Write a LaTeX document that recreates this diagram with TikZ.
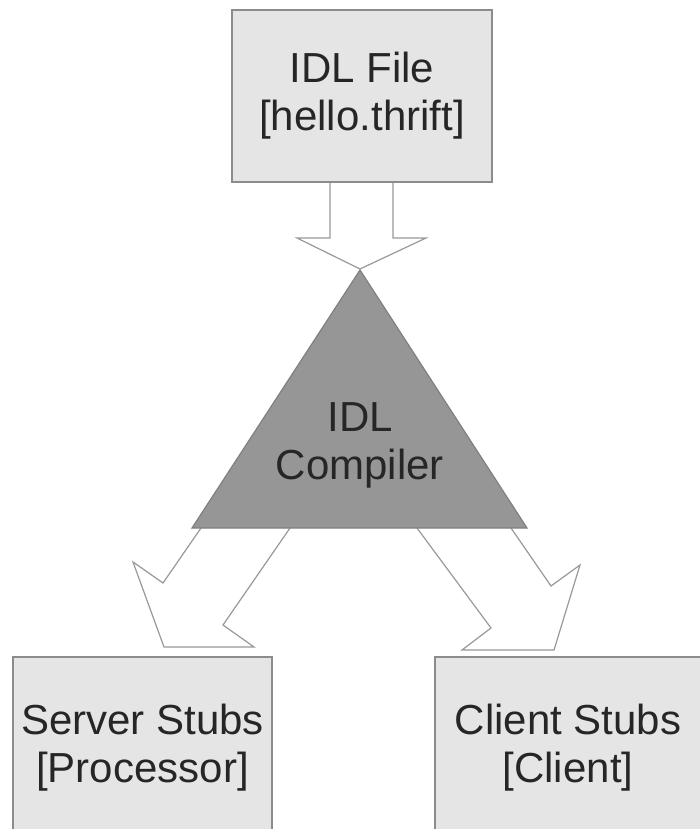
\documentclass[tikz,border=0pt]{standalone}
\usepackage{fontspec}
\setmainfont{Liberation Sans}
\begin{document}
\begin{tikzpicture}[x=1pt,y=-1pt,
  block/.style={draw=black!45, line width=1.2pt, fill=black!10, inner sep=0pt,
    text=black!85, font=\fontsize{42}{48}\selectfont, align=center},
  blockarrow/.style={draw=black!40, line width=1.2pt, fill=white, line join=miter},
  label/.style={text=black!85, font=\fontsize{42}{48}\selectfont, align=center, inner sep=0pt}]
\useasboundingbox (0,0) rectangle (700,829);
\begin{scope}
\clip (0,0) rectangle (700,829);

% block arrows
\draw[blockarrow] (330,182) -- (330,238) -- (297,238) -- (360,269) -- (426,238)
  -- (393,238) -- (393,182);
\draw[blockarrow] (201,528) -- (163,583) -- (133,562) -- (164,647) -- (254,647)
  -- (223,625) -- (290,528);
\draw[blockarrow] (417,528) -- (491,628) -- (462,650) -- (554,650) -- (580,565)
  -- (551,586) -- (511,528);

% boxes
\node[block, minimum width=260pt, minimum height=172pt] (idl) at (362,96)
  {IDL File\\{[hello.thrift]}};
\node[block, minimum width=259pt, minimum height=180pt] (server) at (142.5,747) {};
\node[block, minimum width=266pt, minimum height=180pt] (client) at (568,747) {};

% compiler triangle
\draw[draw=black!50, line width=1.2pt, fill=black!41, line join=miter]
  (360,270) -- (527,528) -- (192,528) -- cycle;
\node[label] (comp) at (360,445) {IDL\\Compiler};

\node[label] (servertext) at (142.5,748) {Server Stubs\\{[Processor]}};
\node[label] (clienttext) at (568,748) {Client Stubs\\{[Client]}};
\end{scope}
\end{tikzpicture}
\end{document}
